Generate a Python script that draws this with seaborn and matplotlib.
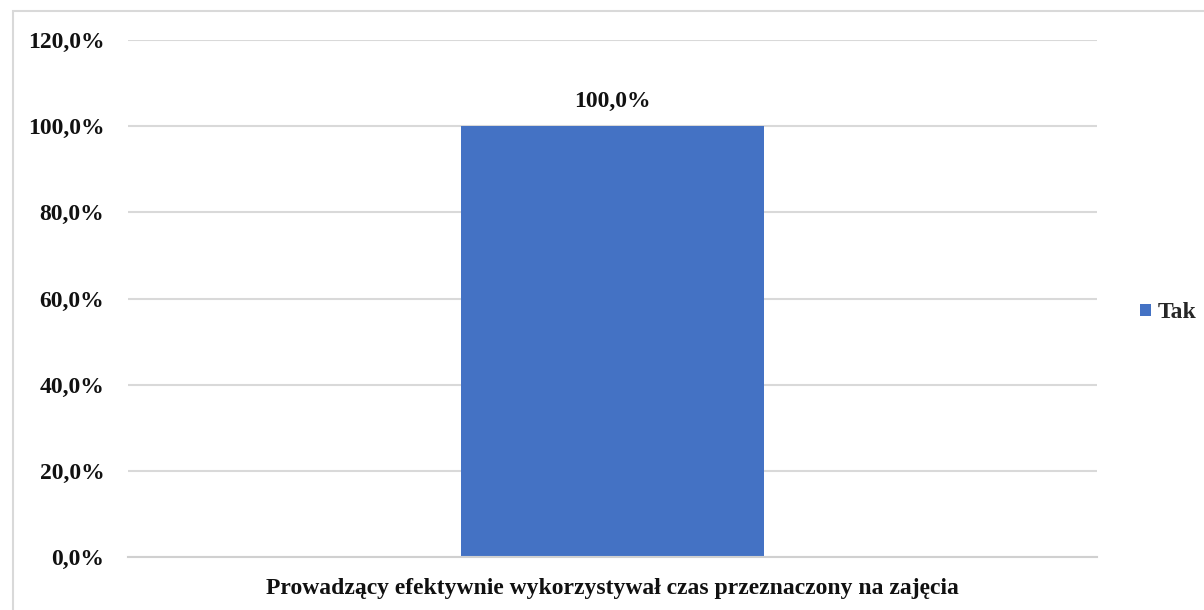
import matplotlib
matplotlib.use("Agg")
import matplotlib.pyplot as plt
import seaborn as sns
import pandas as pd
from matplotlib.patches import Rectangle
from matplotlib.ticker import FuncFormatter

categories = ["Prowadzący efektywnie wykorzystywał czas przeznaczony na zajęcia"]
series_name = "Tak"
values = [100.0]
yticks = [0, 20, 40, 60, 80, 100, 120]

sns.set_theme(style="white")
plt.rcParams['font.family'] = ['Liberation Serif', 'DejaVu Serif']
plt.rcParams['font.weight'] = 'bold'

df = pd.DataFrame({"cat": categories, "val": values, "series": [series_name] * len(values)})

fig = plt.figure(figsize=(12.04, 6.10), dpi=100)
ax = fig.add_axes([128 / 1204, 1 - 557 / 610, (1097 - 128) / 1204, (557 - 40) / 610])

sns.barplot(data=df, x="cat", y="val", hue="series", palette=["#4472C4"],
            width=0.3127, ax=ax, legend=True, saturation=1, linewidth=0)

ax.set_ylim(0, 120)
ax.set_xlim(-0.5, 0.5)
ax.set_yticks(yticks)
ax.yaxis.set_major_formatter(FuncFormatter(lambda v, p: f"{v:.1f}".replace(".", ",") + "%"))
ax.grid(axis="y", color="#d9d9d9", linewidth=1.5)
ax.set_axisbelow(True)
for s in ["top", "right", "left"]:
    ax.spines[s].set_visible(False)
ax.spines["bottom"].set_color("#d0d0d0")
ax.spines["bottom"].set_linewidth(1.5)
fs = 17
ax.tick_params(axis="y", length=0, pad=17, labelsize=fs, labelcolor="#111111")
ax.tick_params(axis="x", length=0, pad=15, labelsize=fs, labelcolor="#111111")
for lab in ax.get_xticklabels() + ax.get_yticklabels():
    lab.set_fontweight("bold")
ax.set_xlabel("")
ax.set_ylabel("")

for cont in ax.containers:
    ax.bar_label(cont, labels=[f"{v:.1f}".replace(".", ",") + "%" for v in values],
                 padding=10, fontsize=fs, fontweight="bold", color="#111111")

leg = ax.legend(loc="center left", bbox_to_anchor=(1131 / 1204, 1 - 313 / 610),
                bbox_transform=fig.transFigure, frameon=False,
                prop={"size": fs, "weight": "bold"},
                handlelength=0.45, handleheight=0.45, handletextpad=0.3, borderaxespad=0)

fig.add_artist(Rectangle((12.5 / 1204, -0.1), 1.2, 1.1 - 10.5 / 610,
                         transform=fig.transFigure, fill=False,
                         edgecolor="#d9d9d9", linewidth=1.5))

fig.savefig("out.png", dpi=100)
